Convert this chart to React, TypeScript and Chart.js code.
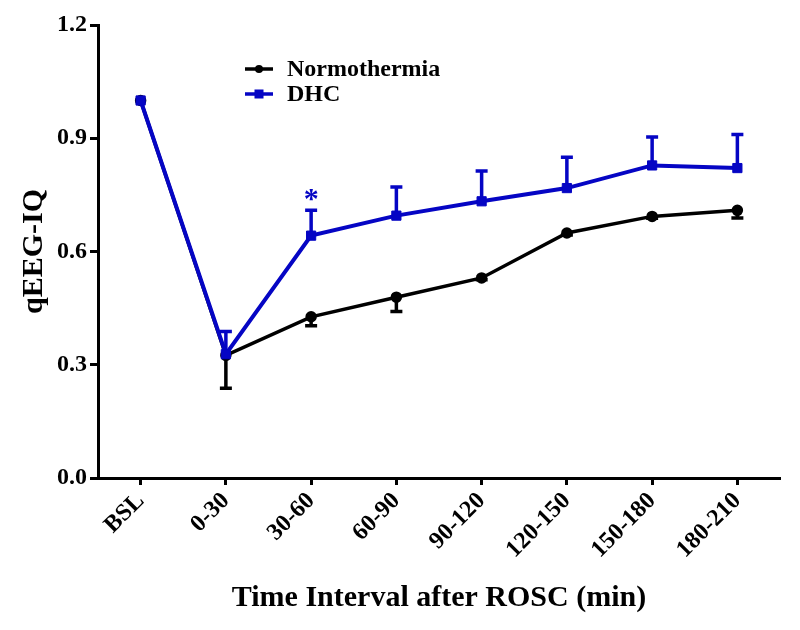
import React, { useEffect, useRef } from 'react';
import { Chart, registerables } from 'chart.js';
Chart.register(...registerables);

const categories = ['BSL', '0-30', '30-60', '60-90', '90-120', '120-150', '150-180', '180-210'];
const normoMean = [1.0, 0.325, 0.427, 0.479, 0.530, 0.649, 0.693, 0.709];
const normoSem = [0, 0.087, 0.024, 0.038, 0.005, 0.005, 0.005, 0.02];
const dhcMean = [1.0, 0.328, 0.642, 0.695, 0.733, 0.768, 0.828, 0.821];
const dhcSem = [0, 0.06, 0.067, 0.076, 0.08, 0.082, 0.075, 0.089];
const yTicks = [0, 0.3, 0.6, 0.9, 1.2];
const significant = ['30-60'];

const BLUE = '#0505c4';
const BLACK = '#000000';
const FONT = '"Liberation Serif", "Times New Roman", serif';

export default function App() {
  const ref = useRef<HTMLCanvasElement>(null);
  useEffect(() => {
    document.body.style.margin = '0';
    const errorBars = {
      id: 'errorBars',
      beforeDatasetsDraw(chart: any) {
        const ctx = chart.ctx;
        const x = chart.scales.x;
        const y = chart.scales.y;
        const draw = (means: number[], sems: number[], dir: number, color: string) => {
          ctx.save();
          ctx.strokeStyle = color;
          ctx.lineWidth = 3.5;
          means.forEach((m, i) => {
            if (!sems[i]) return;
            const px = x.getPixelForValue(i);
            const p0 = y.getPixelForValue(m);
            const p1 = y.getPixelForValue(m + dir * sems[i]);
            ctx.beginPath();
            ctx.moveTo(px, p0);
            ctx.lineTo(px, p1);
            ctx.moveTo(px - 6, p1);
            ctx.lineTo(px + 6, p1);
            ctx.stroke();
          });
          ctx.restore();
        };
        draw(normoMean, normoSem, -1, BLACK);
        draw(dhcMean, dhcSem, 1, BLUE);
      },
      afterDraw(chart: any) {
        const ctx = chart.ctx;
        const x = chart.scales.x;
        const y = chart.scales.y;
        ctx.save();
        // asterisk
        ctx.fillStyle = BLUE;
        ctx.font = `bold 30px ${FONT}`;
        ctx.textAlign = 'center';
        ctx.textBaseline = 'alphabetic';
        significant.forEach((c) => {
          const i = categories.indexOf(c);
          const px = x.getPixelForValue(i);
          const top = y.getPixelForValue(dhcMean[i] + dhcSem[i]);
          ctx.fillText('*', px, top - 2);
        });
        // legend
        const items = [
          { label: 'Normothermia', color: BLACK, style: 'circle', y: 69 },
          { label: 'DHC', color: BLUE, style: 'rect', y: 94 },
        ];
        items.forEach((it) => {
          ctx.strokeStyle = it.color;
          ctx.fillStyle = it.color;
          ctx.lineWidth = 3.5;
          ctx.beginPath();
          ctx.moveTo(245, it.y);
          ctx.lineTo(273, it.y);
          ctx.stroke();
          if (it.style === 'circle') {
            ctx.beginPath();
            ctx.arc(259, it.y, 4, 0, Math.PI * 2);
            ctx.fill();
          } else {
            ctx.fillRect(259 - 4.5, it.y - 4.5, 9, 9);
          }
          ctx.fillStyle = BLACK;
          ctx.font = `bold 24px ${FONT}`;
          ctx.textAlign = 'left';
          ctx.textBaseline = 'middle';
          ctx.fillText(it.label, 287, it.y + 1);
        });
        ctx.restore();
      },
    };

    const chart = new Chart(ref.current!, {
      type: 'line',
      data: {
        labels: categories,
        datasets: [
          {
            label: 'DHC',
            data: dhcMean,
            borderColor: BLUE,
            backgroundColor: BLUE,
            borderWidth: 4,
            pointStyle: 'rect',
            pointRadius: 6.5,
            pointBorderWidth: 1,
            pointBackgroundColor: BLUE,
            pointBorderColor: BLUE,
            tension: 0,
            clip: false as any,
          },
          {
            label: 'Normothermia',
            data: normoMean,
            borderColor: BLACK,
            backgroundColor: BLACK,
            borderWidth: 3.5,
            pointStyle: 'circle',
            pointRadius: 4,
            pointBackgroundColor: BLACK,
            pointBorderColor: BLACK,
            tension: 0,
            clip: false as any,
          },
        ],
      },
      options: {
        responsive: false,
        animation: false,
        layout: { padding: { top: 25, right: 20, left: 0, bottom: 0 } },
        plugins: { legend: { display: false }, tooltip: { enabled: false } },
        scales: {
          x: {
            type: 'category',
            offset: true,
            grid: { offset: false, drawOnChartArea: false, drawTicks: true, tickLength: 7, tickWidth: 3, color: BLACK },
            border: { display: true, width: 3, color: BLACK },
            ticks: {
              color: BLACK,
              font: { family: FONT, size: 24, weight: 'bold' },
              minRotation: 45,
              maxRotation: 45,
              padding: 2,
              autoSkip: false,
            },
            title: {
              display: true,
              text: 'Time Interval after ROSC (min)',
              color: BLACK,
              font: { family: FONT, size: 30, weight: 'bold' },
              padding: { top: 0, bottom: 14 },
            },
            afterFit: (s: any) => { s.height = 152; },
          },
          y: {
            min: 0,
            max: 1.2,
            afterBuildTicks: (s: any) => { s.ticks = yTicks.map((v) => ({ value: v })); },
            grid: { drawOnChartArea: false, drawTicks: true, tickLength: 8, tickWidth: 3, color: BLACK },
            border: { display: true, width: 3, color: BLACK },
            ticks: {
              color: BLACK,
              font: { family: FONT, size: 24, weight: 'bold' },
              padding: 3,
              callback: (v: any) => Number(v).toFixed(1),
            },
            title: {
              display: true,
              text: 'qEEG-IQ',
              color: BLACK,
              font: { family: FONT, size: 30, weight: 'bold' },
              padding: { top: 16, bottom: 0 },
            },
            afterFit: (s: any) => { s.width = 98; },
          },
        },
      },
      plugins: [errorBars],
    } as any);
    return () => chart.destroy();
  }, []);
  return (
    <div style={{ width: 800, height: 630, position: 'relative', background: '#fff' }}>
      <canvas ref={ref} width={800} height={630} style={{ width: 800, height: 630 }} />
    </div>
  );
}
